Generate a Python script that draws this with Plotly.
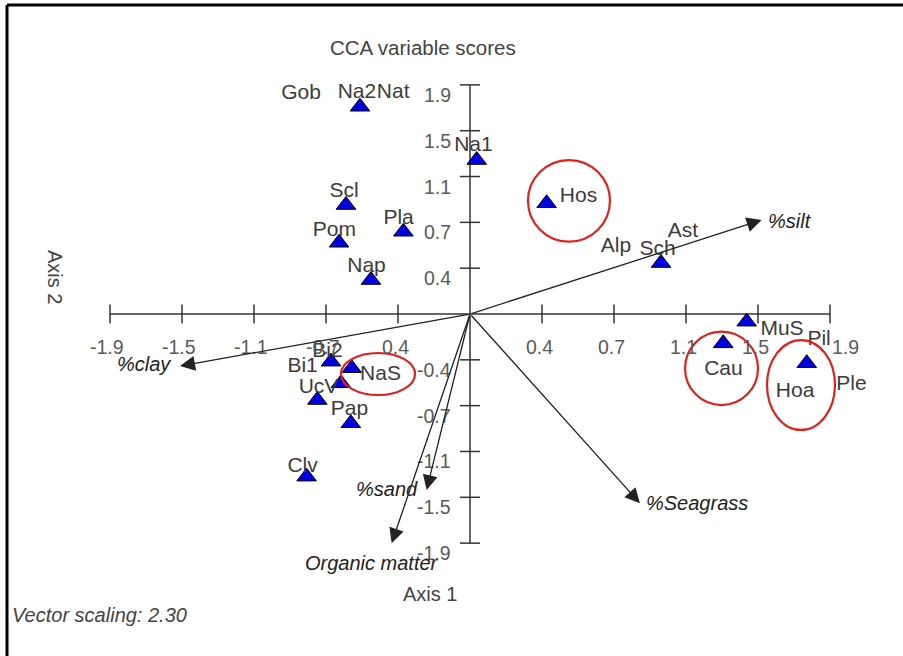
import plotly.graph_objects as go

# ---- data (CCA scores, axis units) ----
species_names = ["Na2", "Na1", "Scl", "Pla", "Pom", "Nap", "Hos", "Sch", "MuS", "Cau",
                 "Hoa", "Bi1", "NaS", "Bi2", "UcV", "Pap", "Clv"]
species_x = [-0.573, 0.035, -0.646, -0.347, -0.682, -0.516, 0.399, 0.995, 1.441, 1.319,
             1.754, -0.724, -0.616, -0.672, -0.795, -0.621, -0.851]
species_y = [1.696, 1.260, 0.892, 0.673, 0.583, 0.278, 0.906, 0.417, -0.063, -0.240,
             -0.403, -0.390, -0.444, -0.567, -0.704, -0.894, -1.331]

label_names = ["Gob", "Na2", "Nat", "Na1", "Scl", "Pla", "Pom", "Nap", "Hos", "Alp", "Sch",
               "Ast", "MuS", "Pil", "Cau", "Hoa", "Ple", "Bi1", "Bi2", "NaS", "UcV", "Pap", "Clv"]
label_x = [-0.880, -0.589, -0.400, 0.018, -0.656, -0.372, -0.706, -0.539, 0.565, 0.760, 0.977,
           1.109, 1.625, 1.818, 1.320, 1.693, 1.987, -0.872, -0.742, -0.466, -0.789, -0.628, -0.872]
label_y = [1.800, 1.808, 1.808, 1.375, 1.001, 0.777, 0.682, 0.387, 0.960, 0.551, 0.524,
           0.673, -0.131, -0.213, -0.458, -0.636, -0.581, -0.431, -0.309, -0.499, -0.606, -0.786, -1.250]

vector_names = ["%silt", "%clay", "%Seagrass", "%sand", "Organic matter"]
vector_x = [1.519, -1.510, 0.885, -0.226, -0.408]
vector_y = [0.769, -0.426, -1.549, -1.440, -1.876]
vector_label_x = [1.667, -1.698, 1.182, -0.432, -0.510]
vector_label_y = [0.764, -0.409, -1.549, -1.432, -2.038]

# highlighted groups (ellipses): x0, x1, y0, y1
circle_x0 = [0.302, 1.120, 1.547, -0.672]
circle_x1 = [0.729, 1.500, 1.901, -0.286]
circle_y0 = [0.592, -0.745, -0.949, -0.663]
circle_y1 = [1.260, -0.145, -0.213, -0.319]

tick_step = 0.375
tick_vals = [tick_step * k for k in range(-5, 6) if k != 0]
tick_labels = ["-1.9", "-1.5", "-1.1", "-0.7", "0.4", "0.4", "0.7", "1.1", "1.5", "1.9"]
ytick_labels = ["-1.9", "-1.5", "-1.1", "-0.7", "-0.4", "0.4", "0.7", "1.1", "1.5", "1.9"]
axis_end = tick_step * 5

FONT = "Liberation Sans, Arial, sans-serif"
W, H = 903, 656
X0PX, Y0PX, XS, YS = 470.0, 314.0, 192.0, 122.2

fig = go.Figure()

shapes = []
# axes
shapes.append(dict(type="line", x0=-axis_end, x1=axis_end, y0=0, y1=0, xref="x", yref="y",
                   line=dict(color="#333333", width=1.5), layer="below"))
shapes.append(dict(type="line", x0=0, x1=0, y0=-axis_end, y1=axis_end, xref="x", yref="y",
                   line=dict(color="#333333", width=1.5), layer="below"))
tx = 9.5 / YS
ty = 10.0 / XS
for v in tick_vals:
    shapes.append(dict(type="line", x0=v, x1=v, y0=-tx, y1=tx, xref="x", yref="y",
                       line=dict(color="#333333", width=1.5), layer="below"))
    shapes.append(dict(type="line", x0=-ty, x1=ty, y0=v, y1=v, xref="x", yref="y",
                       line=dict(color="#333333", width=1.5), layer="below"))
# ellipses
for a, b, c, d in zip(circle_x0, circle_x1, circle_y0, circle_y1):
    shapes.append(dict(type="circle", x0=a, x1=b, y0=c, y1=d, xref="x", yref="y",
                       line=dict(color="#e0201b", width=2.2)))
# frame (top and left)
shapes.append(dict(type="line", xref="paper", yref="paper", x0=7 / W, x1=1, y0=1 - 5 / H, y1=1 - 5 / H,
                   line=dict(color="black", width=3)))
shapes.append(dict(type="line", xref="paper", yref="paper", x0=7 / W, x1=7 / W, y0=0, y1=1 - 5 / H,
                   line=dict(color="black", width=3)))

annotations = []
# x tick labels
for i, (v, t) in enumerate(zip(tick_vals, tick_labels)):
    xs = 15 if i == len(tick_vals) - 1 else -3
    annotations.append(dict(x=v, y=0, xref="x", yref="y", text=t, showarrow=False,
                            xanchor="center", yanchor="middle", xshift=xs, yshift=-33,
                            font=dict(family=FONT, size=19.5, color="#5a5a5a")))
# y tick labels
for v, t in zip(tick_vals, ytick_labels):
    annotations.append(dict(x=0, y=v, xref="x", yref="y", text=t, showarrow=False,
                            xanchor="right", yanchor="middle", xshift=-17, yshift=-10,
                            font=dict(family=FONT, size=19.5, color="#5a5a5a")))
# vectors
for vx, vy in zip(vector_x, vector_y):
    annotations.append(dict(x=vx, y=vy, ax=0, ay=0, xref="x", yref="y", axref="x", ayref="y",
                            text="", showarrow=True, arrowhead=2, arrowsize=2.3, arrowwidth=1.3,
                            arrowcolor="#222222", standoff=0, startstandoff=0))
for name, lx, ly in zip(vector_names, vector_label_x, vector_label_y):
    annotations.append(dict(x=lx, y=ly, xref="x", yref="y", text="<i>" + name + "</i>",
                            showarrow=False, xanchor="center", yanchor="middle",
                            font=dict(family=FONT, size=20, color="#222222")))
# titles
annotations.append(dict(x=423 / W, y=1 - 48 / H, xref="paper", yref="paper", text="CCA variable scores",
                        showarrow=False, xanchor="center", yanchor="middle",
                        font=dict(family=FONT, size=20.5, color="#444444")))
annotations.append(dict(x=430 / W, y=1 - 594 / H, xref="paper", yref="paper", text="Axis 1",
                        showarrow=False, xanchor="center", yanchor="middle",
                        font=dict(family=FONT, size=20, color="#444444")))
annotations.append(dict(x=55 / W, y=1 - 277 / H, xref="paper", yref="paper", text="Axis 2",
                        showarrow=False, xanchor="center", yanchor="middle", textangle=90,
                        font=dict(family=FONT, size=20, color="#444444")))
annotations.append(dict(x=10 / W, y=1 - 615 / H, xref="paper", yref="paper",
                        text="<i>Vector scaling: 2.30</i>", showarrow=False,
                        xanchor="left", yanchor="middle",
                        font=dict(family=FONT, size=20, color="#444444")))

fig.add_trace(go.Scatter(x=species_x, y=species_y, mode="markers", text=species_names,
                         marker=dict(symbol="triangle-up", size=17, color="#0000e0",
                                     line=dict(color="black", width=1)),
                         hoverinfo="text", showlegend=False))
fig.add_trace(go.Scatter(x=label_x, y=label_y, mode="text", text=label_names,
                         textposition="middle center",
                         textfont=dict(family=FONT, size=21, color="#3c3c3c"),
                         hoverinfo="skip", showlegend=False))

fig.update_layout(
    width=W, height=H, margin=dict(l=0, r=0, t=0, b=0),
    paper_bgcolor="white", plot_bgcolor="white",
    xaxis=dict(range=[(0 - X0PX) / XS, (W - X0PX) / XS], visible=False, fixedrange=True),
    yaxis=dict(range=[(Y0PX - H) / YS, Y0PX / YS], visible=False, fixedrange=True),
    shapes=shapes, annotations=annotations,
)

fig.write_html("out.html", config={"displayModeBar": False},
               post_script="document.body.style.margin='0';document.body.style.overflow='hidden';")
